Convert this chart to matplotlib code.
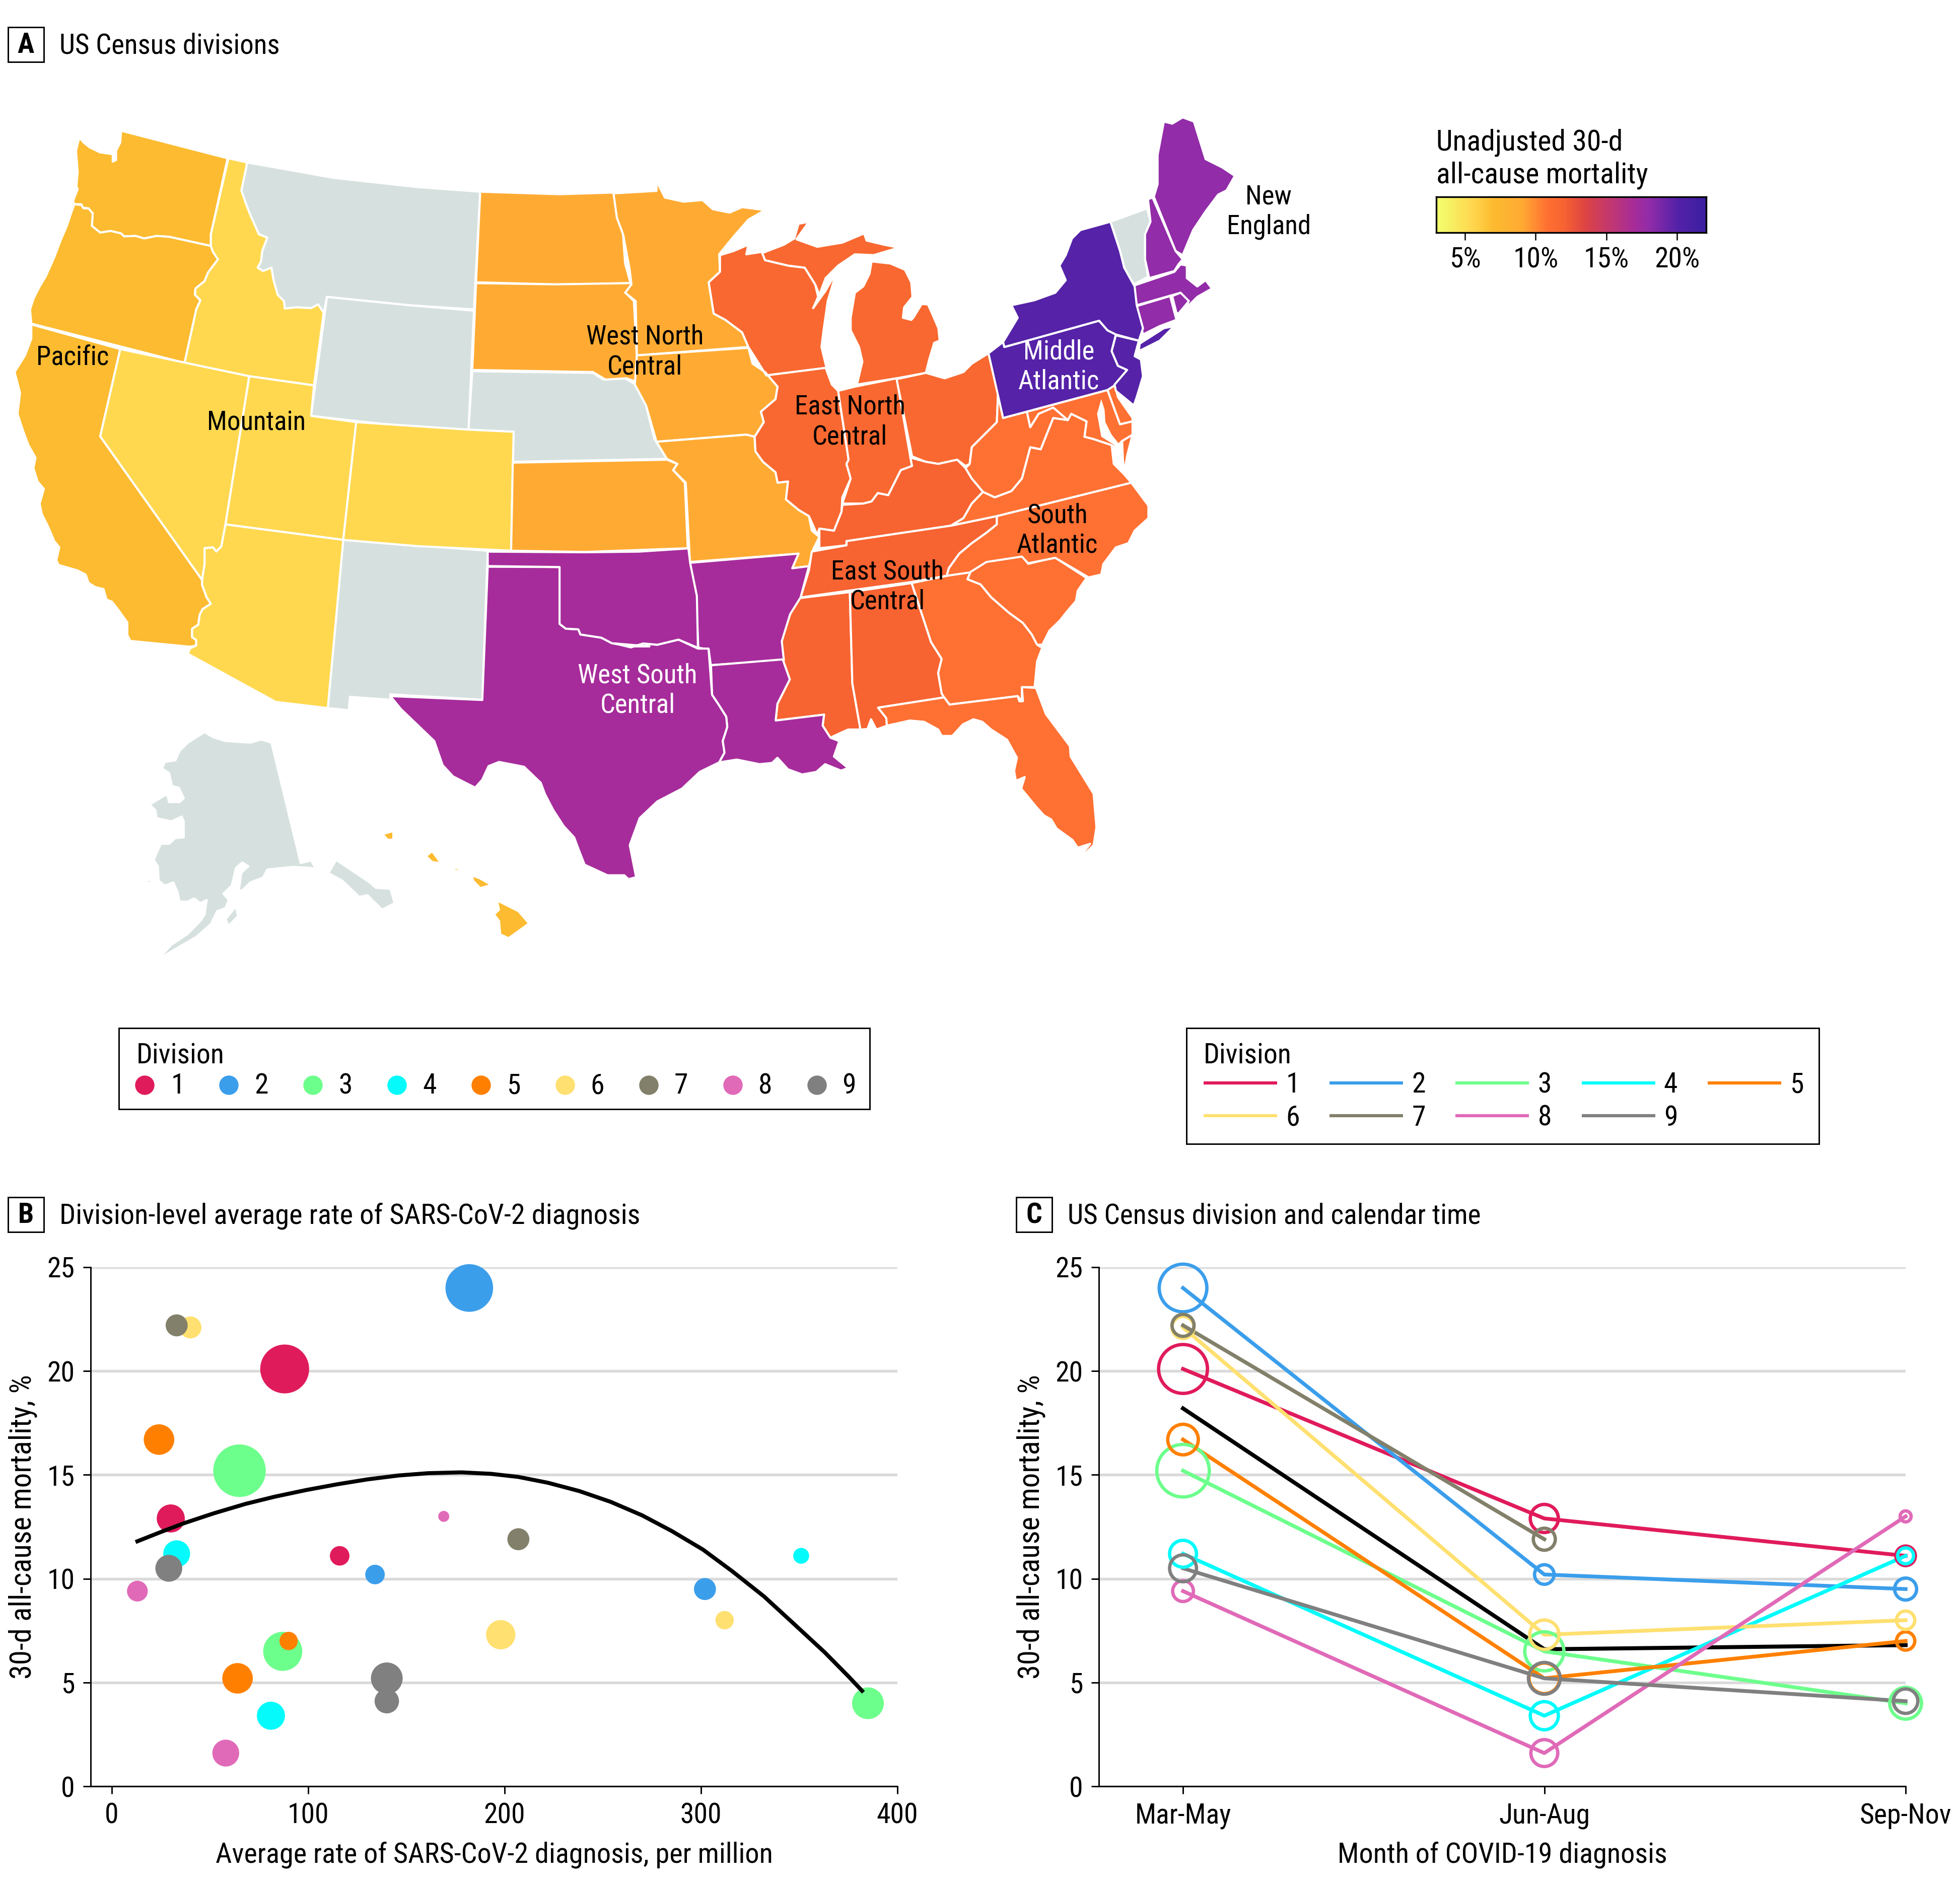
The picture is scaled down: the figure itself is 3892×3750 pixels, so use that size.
import numpy as np
import matplotlib
matplotlib.use('Agg')
import matplotlib.pyplot as plt
from matplotlib.colors import LinearSegmentedColormap
from matplotlib.patches import Polygon, Rectangle
from matplotlib import font_manager

W, H = 3892, 3750
DPI = 300

names = {f.name for f in font_manager.fontManager.ttflist}
for fam in ['Liberation Sans Narrow', 'Roboto Condensed', 'Open Sans Condensed', 'Liberation Sans']:
    if fam in names:
        plt.rcParams['font.family'] = [fam, 'DejaVu Sans']
        break
FS = 13.4

def z1(p): return [(x / 1.206, y / 1.206 + 200) for x, y in p]
def z2(p): return [(x / 1.206 + 1200, y / 1.206 + 200) for x, y in p]
def z3(p): return [(x / 1.206, y / 1.568 + 1000) for x, y in p]
def z4(p): return [(x / 1.4255 + 1200, y / 1.96 + 1000) for x, y in p]

WA = z1([(290,72),(545,138),(505,320),(505,348),(405,326),(375,324),(345,330),(325,324),(297,325),(290,318),(265,312),(240,316),(220,300),(222,270),(212,258),(198,256),(195,248),(178,248),(175,240),(186,212),(183,205),(186,170),(182,120),(190,88),(200,100),(215,112),(240,124),(255,126),(270,128),(270,146),(278,142),(278,120),(288,100)])
OR = z1([(178,248),(195,250),(200,258),(212,258),(222,270),(220,300),(240,316),(265,312),(290,318),(297,325),(325,324),(345,330),(375,324),(405,326),(505,348),(510,362),(522,380),(498,412),(490,432),(468,450),(467,465),(480,478),(470,500),(442,628),(75,534),(72,500),(80,475),(95,445),(110,420),(130,375),(145,335),(160,300),(170,270)])
CA = z1([(75,536),(288,595),(240,804),(484,1148),(484,1160),(495,1190),(505,1205),(485,1218),(478,1232),(475,1255),(460,1265),(460,1285),(470,1292),(470,1305),(455,1308),(312,1294),(305,1280),(305,1250),(285,1222),(268,1200),(255,1195),(248,1170),(228,1165),(212,1155),(205,1135),(185,1125),(140,1112),(135,1100),(142,1070),(130,1055),(115,1020),(100,990),(95,965),(105,930),(90,912),(80,880),(85,855),(68,825),(55,790),(42,750),(48,700),(35,650),(60,610),(75,570)])
NV = z1([(288,595),(597,660),(540,1015),(530,1068),(518,1080),(510,1070),(490,1072),(490,1110),(484,1148),(240,804)])
ID = z1([(547,138),(592,148),(578,215),(590,250),(600,275),(620,320),(640,328),(628,360),(625,385),(617,400),(630,408),(650,400),(655,430),(665,465),(680,480),(682,498),(710,495),(745,497),(762,488),(775,508),(752,682),(597,660),(442,628),(470,500),(480,478),(467,465),(468,450),(490,432),(498,412),(522,380),(510,362),(505,348),(505,320)])
MT = z1([(592,148),(800,185),(1000,207),(1150,218),(1135,500),(980,490),(783,470),(775,508),(762,488),(745,497),(710,495),(682,498),(680,480),(665,465),(655,430),(650,400),(630,408),(617,400),(625,385),(628,360),(640,328),(620,320),(600,275),(590,250),(578,215)])
WY = z1([(783,470),(980,490),(1135,503),(1122,788),(950,778),(745,755)])
UT = z1([(597,660),(752,682),(745,755),(853,770),(822,1052),(540,1015)])
CO = z1([(853,770),(1122,788),(1230,793),(1224,1078),(1000,1067),(822,1052)])
AZ = z1([(540,1015),(822,1052),(785,1455),(660,1440),(450,1325),(455,1312),(470,1305),(470,1292),(460,1285),(460,1265),(475,1255),(478,1232),(485,1218),(505,1205),(495,1190),(484,1160),(484,1148),(490,1110),(490,1072),(510,1070),(518,1080),(530,1068)])
NM = z1([(822,1052),(1168,1078),(1155,1435),(935,1422),(935,1435),(838,1428),(835,1460),(785,1455)])
ND = z1([(1150,218),(1340,224),(1470,220),(1478,250),(1480,285),(1492,320),(1497,390),(1510,437),(1330,440),(1140,435)])
SD = z1([(1140,437),(1330,440),(1510,437),(1512,445),(1498,460),(1518,480),(1525,610),(1530,680),(1520,672),(1500,665),(1450,668),(1420,650),(1131,645)])
NE = z1([(1131,648),(1420,652),(1445,668),(1497,665),(1522,680),(1547,730),(1567,810),(1597,858),(1228,865),(1230,793),(1122,788)])
KS = z1([(1228,867),(1597,860),(1622,870),(1612,885),(1640,915),(1647,1072),(1400,1081),(1224,1078)])
MN = z2([(22,222),(125,216),(125,192),(145,232),(190,242),(235,238),(260,260),(300,268),(330,255),(385,262),(345,285),(310,325),(275,368),(277,410),(250,435),(262,510),(290,525),(330,555),(345,590),(78,610),(75,480),(50,460),(65,440),(60,400),(45,320),(30,280)])
IA = z2([(78,610),(345,592),(355,630),(385,650),(415,685),(410,715),(375,745),(382,770),(360,805),(340,800),(125,817),(100,730),(73,680)])
MO = z2([(125,817),(340,800),(360,805),(362,840),(380,865),(410,890),(415,915),(440,912),(435,955),(465,980),(490,995),(497,1030),(515,1045),(500,1075),(490,1115),(450,1120),(465,1085),(205,1105),(195,915),(165,885),(175,870),(150,858)])
AR = z2([(205,1107),(465,1085),(450,1120),(490,1115),(470,1190),(445,1230),(425,1295),(430,1340),(255,1352),(250,1315),(225,1310),(220,1190)])
LA = z4([(302,630),(505,607),(525,685),(490,780),(485,845),(622,822),(618,865),(640,912),(665,925),(650,985),(690,1030),(670,1040),(625,1015),(600,1045),(560,1055),(520,1035),(490,990),(475,1010),(440,1015),(375,997),(325,1008),(340,970),(335,925),(348,870),(345,830),(322,780),(305,745)])
TX = (z3([(935,600),(1155,612),(1168,197),(1340,198),(1340,375),(1355,390),(1385,392),(1390,408),(1440,418),(1465,435),(1510,445),(1555,445)])
      + z4([(30,545),(75,560),(110,545),(150,550),(210,530),(265,565),(295,565),(305,745),(322,780),(345,830),(348,870),(335,925),(340,970),(325,1008),(270,1045),(220,1110),(150,1160),(100,1225),(72,1330),(90,1455)])
      + z3([(1505,1170),(1495,1158),(1455,1158),(1425,1140),(1400,1125),(1385,1075),(1375,1040),(1350,1005),(1325,955),(1305,905),(1295,870),(1255,820),(1195,805),(1170,818),(1155,860),(1138,885),(1115,870),(1085,850),(1060,815),(1040,740),(1000,690),(960,640)]))
OK = (z3([(1168,150),(1400,152),(1530,150)])
      + z4([(238,175),(243,232),(262,360),(265,562),(210,530),(150,550),(110,545),(75,560),(30,545)])
      + z3([(1555,445),(1510,445),(1465,435),(1440,418),(1390,408),(1385,392),(1355,390),(1340,375),(1340,198),(1168,195)]))
AK = z3([(650,745),(720,1120),(745,1112),(755,1135),(785,1155),(805,1110),(885,1180),(900,1197),(935,1200),(945,1245),(915,1265),(880,1220),(860,1225),(820,1175),(785,1150),(745,1135),(700,1132),(640,1140),(630,1165),(600,1180),(580,1205),(572,1205),(578,1150),(595,1130),(580,1118),(565,1135),(555,1190),(535,1215),(548,1235),(540,1260),(520,1270),(505,1310),(470,1350),(430,1380),(378,1420),(410,1375),(450,1340),(480,1300),(490,1280),(495,1235),(480,1245),(465,1230),(450,1240),(430,1240),(425,1210),(415,1180),(395,1190),(380,1175),(378,1130),(368,1110),(385,1060),(405,1060),(420,1042),(440,1040),(440,990),(435,975),(410,990),(375,980),(372,955),(358,938),(400,905),(405,930),(430,930),(440,918),(428,885),(412,880),(405,840),(388,825),(395,805),(420,800),(430,770),(450,745),(490,712),(510,728),(540,740),(600,745),(625,735)])
AK2 = z3([(540,1295),(565,1255),(570,1285),(548,1315)])
AK3 = z3([(345,1175),(362,1172),(362,1185)])
HI1 = z3([(916,1030),(942,1020),(942,1047),(928,1047)])
HI2 = z3([(1035,1083),(1056,1120),(1035,1117),(1020,1098)])
HI3 = z3([(1088,1134),(1122,1145),(1088,1144)])
HI4 = z3([(1130,1158),(1150,1168),(1177,1188),(1150,1198),(1133,1175)])
HI5 = z3([(1190,1236),(1242,1270),(1267,1308),(1218,1354),(1198,1342),(1195,1300),(1183,1280),(1195,1265)])
WI = z2([(277,370),(310,360),(345,345),(340,368),(378,362),(385,382),(440,395),(480,400),(505,440),(512,470),(500,497),(530,455),(556,410),(535,480),(525,550),(520,590),(532,640),(388,658),(345,590),(330,555),(290,525),(262,510),(250,435),(277,410)])
MI1 = z2([(378,365),(430,345),(455,330),(465,295),(490,290),(460,332),(510,350),(570,340),(622,318),(628,335),(670,345),(705,352),(645,370),(600,368),(560,395),(530,425),(515,465),(505,440),(480,400),(440,395),(385,382)])
MI2 = z2([(605,680),(700,665),(770,652),(778,620),(790,580),(803,575),(800,545),(785,510),(775,488),(760,487),(740,520),(735,525),(715,520),(718,495),(738,470),(735,435),(720,405),(685,390),(640,385),(635,415),(620,445),(600,460),(590,520),(590,550),(610,590),(618,625)])
IL = z2([(388,658),(530,640),(545,680),(560,695),(585,860),(580,870),(590,905),(570,950),(568,985),(550,1030),(515,1025),(510,1040),(490,995),(465,980),(435,955),(440,912),(415,915),(410,890),(380,865),(362,840),(360,805),(382,770),(375,745),(410,715),(415,685),(385,650)])
IN = z2([(560,695),(600,685),(700,665),(733,855),(737,875),(710,885),(695,915),(680,945),(655,940),(640,960),(620,965),(570,965),(590,905),(580,870),(585,860)])
OH = z2([(700,667),(770,652),(815,665),(860,650),(880,630),(920,605),(943,700),(940,770),(915,795),(880,830),(875,870),(865,875),(845,860),(800,870),(770,865),(737,852)])
KY = z2([(570,968),(620,965),(640,960),(655,940),(680,945),(695,915),(710,885),(737,875),(733,855),(770,865),(800,870),(845,860),(865,880),(880,905),(907,937),(880,965),(860,1000),(830,1018),(580,1055),(580,1065),(515,1072),(515,1025),(550,1030),(568,985)])
TN = z2([(497,1080),(580,1065),(580,1055),(830,1018),(940,995),(940,1015),(915,1035),(880,1060),(850,1085),(825,1120),(820,1138),(735,1153),(590,1173),(470,1190),(490,1125)])
MS = z4([(555,368),(695,345),(702,700),(725,880),(690,880),(650,905),(640,912),(618,865),(622,822),(485,845),(490,780),(525,685),(505,607),(497,545),(520,455),(535,395)])
AL = z4([(695,345),(870,310),(925,540),(955,605),(945,660),(955,740),(962,755),(775,795),(798,835),(800,865),(770,880),(755,840),(745,878),(725,880),(702,700)])
GA = z4([(870,310),(1038,262),(1028,295),(1065,315),(1095,365),(1145,425),(1185,465),(1210,510),(1230,555),(1240,560),(1225,615),(1218,715),(1182,715),(1182,770),(1170,750),(977,783),(962,755),(955,740),(945,660),(955,605),(925,540)])
FL = z4([(775,795),(962,755),(977,783),(1170,750),(1175,770),(1185,770),(1182,715),(1222,718),(1250,820),(1318,945),(1320,985),(1385,1130),(1393,1260),(1385,1330),(1340,1392),(1290,1420),(1318,1395),(1340,1388),(1375,1325),(1340,1340),(1325,1310),(1280,1265),(1265,1230),(1245,1215),(1225,1185),(1180,1110),(1190,1065),(1165,1080),(1160,1040),(1168,990),(1140,920),(1095,880),(1070,850),(1045,840),(1015,860),(985,905),(955,905),(945,880),(905,850),(865,845),(800,865),(798,835)])
SC = z4([(1038,262),(1085,222),(1180,200),(1200,235),(1275,210),(1365,290),(1340,340),(1335,380),(1310,420),(1290,455),(1260,495),(1240,550),(1225,550),(1210,510),(1185,465),(1145,425),(1095,365),(1065,315),(1028,295)])
NC = z2([(940,995),(1262,915),(1303,970),(1303,1000),(1270,1030),(1255,1060),(1225,1070),(1195,1110),(1190,1135),(1160,1142),(1080,1095),(1015,1108),(1000,1092),(915,1105),(875,1130),(820,1138),(825,1120),(850,1085),(880,1060),(915,1035),(940,1015)])
VA = z2([(830,1018),(860,1000),(880,965),(907,937),(935,950),(975,935),(1000,905),(1020,830),(1045,835),(1075,760),(1110,765),(1118,750),(1155,768),(1150,805),(1170,810),(1215,825),(1220,870),(1245,895),(1262,915),(940,995)])
VA2 = z2([(1240,815),(1265,800),(1252,850),(1246,890),(1242,860)])
WV = z2([(865,880),(875,870),(880,830),(915,795),(940,770),(943,700),(955,760),(1012,745),(1020,782),(1040,750),(1075,735),(1110,765),(1075,760),(1045,835),(1020,830),(1000,905),(975,935),(935,950),(907,937),(880,905)])
MD = z2([(1012,745),(1205,693),(1235,775),(1265,768),(1265,800),(1240,815),(1225,830),(1215,825),(1170,810),(1150,805),(1155,768),(1118,750),(1110,765),(1075,735),(1040,750),(1020,782)])
DE = z2([(1205,693),(1222,680),(1230,710),(1265,760),(1265,768),(1235,775)])
BAY = z2([(1190,715),(1180,750),(1190,805),(1222,825),(1222,870),(1240,892),(1246,890),(1240,860),(1235,825),(1215,800),(1200,770),(1198,740)])
PA = z2([(920,605),(955,578),(958,590),(1185,527),(1205,550),(1225,560),(1215,600),(1230,635),(1252,645),(1225,680),(1205,693),(955,760)])
NY = z2([(955,578),(990,520),(975,490),(1030,478),(1080,460),(1105,430),(1090,395),(1105,370),(1120,330),(1140,310),(1212,290),(1235,360),(1245,400),(1270,445),(1275,490),(1290,545),(1280,575),(1225,560),(1205,550),(1185,527),(958,590)])
NY2 = z2([(1282,582),(1340,545),(1365,540),(1330,575),(1280,600)])
NJ = z2([(1225,562),(1280,575),(1270,612),(1285,620),(1290,660),(1275,710),(1268,730),(1225,695),(1222,680),(1252,645),(1230,635),(1215,600)])
VT = z2([(1212,290),(1300,258),(1308,290),(1295,320),(1295,380),(1302,422),(1268,440),(1245,400),(1235,360)])
NH = z2([(1302,236),(1313,232),(1368,360),(1385,380),(1375,392),(1365,408),(1305,425),(1295,380),(1295,320),(1308,290)])
ME = z2([(1340,50),(1360,55),(1385,40),(1412,50),(1440,140),(1480,160),(1510,180),(1490,215),(1470,225),(1440,265),(1410,310),(1385,370),(1368,360),(1316,230),(1325,200),(1325,130)])
MA = z2([(1268,443),(1365,410),(1380,392),(1395,395),(1395,425),(1420,445),(1440,430),(1455,450),(1420,470),(1400,490),(1380,460),(1275,490)])
CT = z2([(1275,492),(1355,468),(1370,525),(1330,540),(1290,560)])
RI = z2([(1360,468),(1380,460),(1400,480),(1375,510),(1370,508)])

C_PACIFIC = '#FCBB30'
C_MOUNTAIN = '#FFD84F'
C_WNC = '#FFAB33'
C_ENC = '#F96830'
C_SA = '#FF7033'
C_ESC = '#F76331'
C_WSC = '#A62C9B'
C_NE = '#922CA8'
C_MA = '#5522A8'
C_NODATA = '#D6E1DF'

state_groups = [
    (C_NODATA, [MT, WY, NE, NM, VT, AK, AK2, AK3]),
    (C_PACIFIC, [WA, OR, CA, HI1, HI2, HI3, HI4, HI5]),
    (C_MOUNTAIN, [ID, NV, UT, CO, AZ]),
    (C_WNC, [ND, SD, KS, MN, IA, MO]),
    (C_ENC, [WI, MI1, MI2, IL, IN, OH]),
    (C_ESC, [KY, TN, MS, AL]),
    (C_SA, [GA, FL, SC, NC, VA, VA2, WV, MD, DE]),
    (C_WSC, [AR, LA, TX, OK]),
    (C_NE, [ME, NH, MA, CT, RI]),
    (C_MA, [PA, NY, NY2, NJ]),
]

map_labels = [
    (['Pacific'], 58, 286.5, 'black'),
    (['Mountain'], 205, 338.5, 'black'),
    (['West North', 'Central'], 516, 269.5, 'black'),
    (['East North', 'Central'], 680, 325.5, 'black'),
    (['New', 'England'], 1015, 157.5, 'black'),
    (['Middle', 'Atlantic'], 847, 281.5, 'white'),
    (['South', 'Atlantic'], 846, 412.5, 'black'),
    (['East South', 'Central'], 710, 457.5, 'black'),
    (['West South', 'Central'], 510, 540.5, 'white'),
]

## Mortality data
divisions = ['1', '2', '3', '4', '5', '6', '7', '8', '9']
div_colors = ['#E01B5B', '#3B9EEB', '#6DFF8C', '#05FBFB', '#FF8000', '#FFE070', '#82806A', '#E06AB8', '#808080']
periods = ['Mar-May', 'Jun-Aug', 'Sep-Nov']

rate = [[88, 30, 116], [182, 134, 302], [65, 87, 385], [33, 81, 351], [24, 64, 90],
        [40, 198, 312], [33, 207, np.nan], [13, 58, 169], [29, 140, 140]]
mort = [[20.1, 12.9, 11.1], [24.0, 10.2, 9.5], [15.2, 6.5, 4.0], [11.2, 3.4, 11.1], [16.7, 5.2, 7.0],
        [22.1, 7.3, 8.0], [22.2, 11.9, np.nan], [9.4, 1.6, 13.0], [10.5, 5.2, 4.1]]
volume = [[1600, 529, 256], [1521, 256, 324], [1849, 1024, 676], [484, 529, 169], [625, 625, 225],
          [324, 576, 225], [324, 324, np.nan], [289, 484, 81], [484, 676, 400]]

trend_x = [13, 25, 37, 52, 68, 83, 99, 115, 130, 146, 161, 178, 193, 207, 222, 238, 254, 270, 285, 301, 316, 332, 347, 363, 375, 382]
trend_y = [11.8, 12.25, 12.68, 13.15, 13.6, 13.95, 14.27, 14.55, 14.78, 14.97, 15.08, 15.12, 15.05, 14.9, 14.62, 14.22, 13.7, 13.05, 12.3, 11.4, 10.35, 9.15, 7.85, 6.45, 5.3, 4.6]
trend_c = [18.2, 6.6, 6.8]

cbar_stops = [(3.0, '#F3FF70'), (5.5, '#FFD84F'), (7.0, '#FDBB30'), (9.0, '#FFAB33'), (10.8, '#FF7033'),
              (12.0, '#F76331'), (13.5, '#DD4444'), (17.0, '#A62C9B'), (18.0, '#922CA8'), (20.0, '#5522A8'), (22.0, '#3B1FA0')]
cbar_ticks = [5, 10, 15, 20]
cbar_labels = ['5%', '10%', '15%', '20%']


def ax_px(x0, y0, x1, y1, **kw):
    # axes from pixel box, y measured from the top
    return fig.add_axes([x0 / W, 1 - y1 / H, (x1 - x0) / W, (y1 - y0) / H], **kw)


def panel_title(letter, x0, y_mid, title, size=FS):
    page.add_patch(Rectangle((x0, y_mid - 35), 71, 69, fc='white', ec='black', lw=0.7))
    page.text(x0 + 35.5, y_mid + 1, letter, ha='center', va='center', fontsize=FS, fontweight='bold')
    page.text(x0 + 102, y_mid + 2, title, ha='left', va='center', fontsize=size)


def style_axes(ax):
    for s in ['top', 'right']:
        ax.spines[s].set_visible(False)
    for s in ['left', 'bottom']:
        ax.spines[s].set_linewidth(0.7)
    ax.set_ylim(0, 25)
    ax.set_yticks([0, 5, 10, 15, 20, 25])
    ax.tick_params(length=3.6, width=0.7, labelsize=FS, pad=4)
    ax.grid(axis='y', color='#DADADA', lw=1.3)
    ax.set_axisbelow(True)
    ax.set_ylabel('30-d all-cause mortality, %', fontsize=14.1, labelpad=4.6)


fig = plt.figure(figsize=(W / DPI, H / DPI), dpi=DPI)
page = fig.add_axes([0, 0, 1, 1])
page.set_xlim(0, W)
page.set_ylim(H, 0)
page.axis('off')

for color, states in state_groups:
    for pts in states:
        page.add_patch(Polygon(pts, closed=True, fc=color, ec='white', lw=1.0, joinstyle='round'))
page.add_patch(Polygon(BAY, closed=True, fc='white', ec='none'))

k = W / 1568
for lines, tx, ty, col in map_labels:
    for i, line in enumerate(lines):
        page.text(tx * k, (ty + 24 * i) * k, line, ha='center', va='center', fontsize=12.7, color=col)

panel_title('A', 16, 89, 'US Census divisions', size=13.2)
panel_title('B', 16, 2413, 'Division-level average rate of SARS-CoV-2 diagnosis', size=13.55)
panel_title('C', 2018, 2413, 'US Census division and calendar time', size=13.3)

# colour scale
page.text(2852, 283, 'Unadjusted 30-d', ha='left', va='center', fontsize=13.9)
page.text(2852, 348, 'all-cause mortality', ha='left', va='center', fontsize=13.9)
cax = ax_px(2852, 391, 3388, 462)
lo, hi = cbar_stops[0][0], cbar_stops[-1][0]
cmap = LinearSegmentedColormap.from_list('mort', [((v - lo) / (hi - lo), c) for v, c in cbar_stops])
cax.imshow(np.linspace(0, 1, 512)[None, :], aspect='auto', cmap=cmap, extent=[2.97, 22.06, 0, 1])
cax.set_yticks([])
cax.set_xticks(cbar_ticks, cbar_labels)
cax.tick_params(length=3.6, width=0.6, labelsize=FS, pad=3)
for s in cax.spines.values():
    s.set_linewidth(0.8)

# legend boxes
page.add_patch(Rectangle((236, 2042), 1491, 161, fc='white', ec='black', lw=0.7))
page.text(271, 2097, 'Division', ha='left', va='center', fontsize=FS)
for i, d in enumerate(divisions):
    page.scatter(287 + i * 166.9, 2155, s=85, color=div_colors[i], linewidths=0)
    page.text(353 + i * 166.6, 2157, d, ha='center', va='center', fontsize=FS)

page.add_patch(Rectangle((2356, 2042), 1256, 230, fc='white', ec='black', lw=0.7))
page.text(2390, 2097, 'Division', ha='left', va='center', fontsize=FS)
for i, d in enumerate(divisions):
    col, row = i % 5, i // 5
    x0 = 2390 + col * 250.2
    y0 = 2151 + row * 65
    page.plot([x0, x0 + 146], [y0, y0], color=div_colors[i], lw=1.5, solid_capstyle='butt')
    page.text(x0 + 177, y0 + 4, d, ha='center', va='center', fontsize=FS)
page.set_xlim(0, W)
page.set_ylim(H, 0)

## Panel B
axb = ax_px(180, 2517, 1782, 3548)
style_axes(axb)
axb.set_xlim(-10.8, 400)
axb.set_xticks([0, 100, 200, 300, 400])
axb.set_xlabel('Average rate of SARS-CoV-2 diagnosis, per million', fontsize=13.5, labelpad=6)
for i in range(len(divisions)):
    axb.scatter(rate[i], mort[i], s=np.array(volume[i]) * 0.339, color=div_colors[i], linewidths=0, zorder=3, clip_on=False)
axb.plot(trend_x, trend_y, color='black', lw=1.9, zorder=4, solid_joinstyle='round')

## Panel C
axc = ax_px(2182, 2517, 3784, 3548)
style_axes(axc)
xpos = np.arange(3)
axc.set_xlim(-0.233, 2)
axc.set_xticks(xpos, periods)
axc.set_xlabel('Month of COVID-19 diagnosis', fontsize=13.5, labelpad=6)
for i in range(len(divisions)):
    axc.plot(xpos, mort[i], color=div_colors[i], lw=1.8, zorder=3, clip_on=False)
    axc.scatter(xpos, mort[i], s=np.array(volume[i]) * 0.339, facecolors='none', edgecolors=div_colors[i],
                linewidths=1.6, zorder=4, clip_on=False)
axc.plot(xpos, trend_c, color='black', lw=1.9, zorder=2.5, clip_on=False)

fig.savefig('out.png', dpi=DPI)
